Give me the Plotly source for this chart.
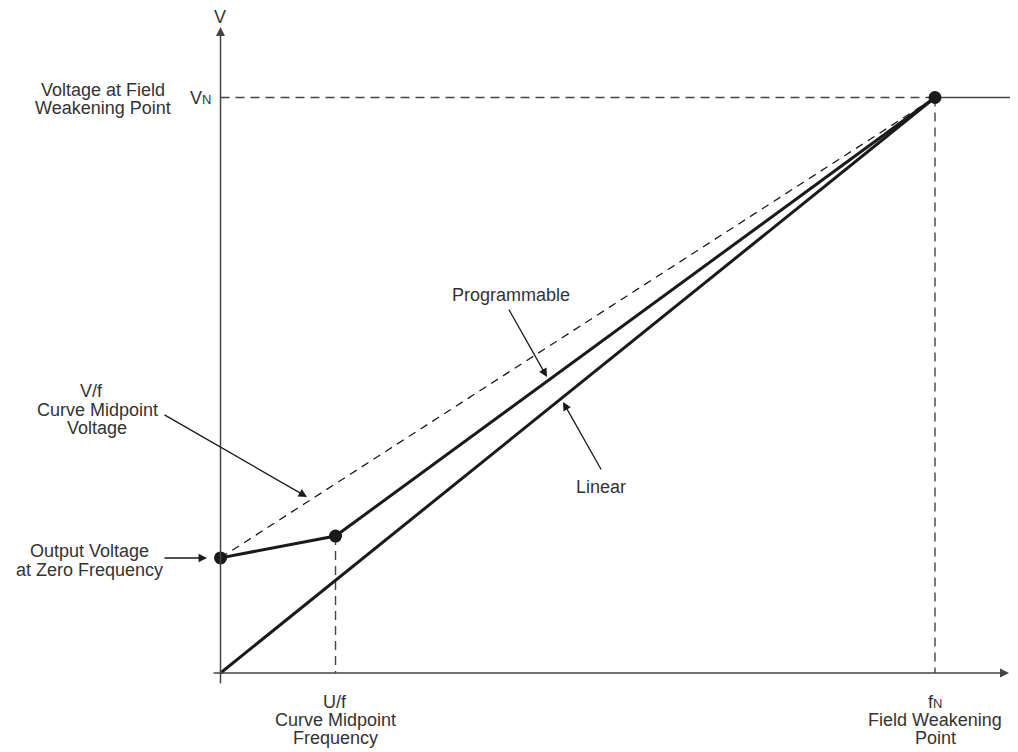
import plotly.graph_objects as go

# normalised V/f curve: f in units of fN, V in units of VN
f_zero = 0.0
f_mid = 0.161
f_n = 1.0
v_zero = 0.200
v_mid = 0.238
v_n = 1.0

prog_f = [f_zero, f_mid, f_n]
prog_v = [v_zero, v_mid, v_n]
lin_f = [0.0, f_n]
lin_v = [0.0, v_n]

# the page body has an 8px margin, so the figure sits at (8, 8) in the window
PAD = 8
W, H = 1018 - PAD, 752 - PAD
X0, Y0 = 220.5, 673.0          # window pixel position of origin
SX, SY = 714.5, 575.5          # pixels per unit


def at(px, py):
    # window pixel -> data units
    return (px - X0) / SX, (Y0 - py) / SY


TXT = "#333333"
INK = "#1a1a1a"
AXC = "#444444"
FONT = "Arial"

fig = go.Figure()

# dashed construction lines
dash_style = dict(color=AXC, width=1.4, dash="9px,6px")
fig.add_trace(go.Scatter(x=[f_zero, f_n], y=[v_zero, v_n], mode="lines",
                         line=dict(color=INK, width=1.3, dash="8px,6px"), hoverinfo="skip"))
fig.add_trace(go.Scatter(x=[0, f_n], y=[v_n, v_n], mode="lines", line=dash_style, hoverinfo="skip"))
fig.add_trace(go.Scatter(x=[f_n, f_n], y=[v_n, 0], mode="lines", line=dash_style, hoverinfo="skip"))
fig.add_trace(go.Scatter(x=[f_mid, f_mid], y=[v_mid, 0], mode="lines", line=dash_style, hoverinfo="skip"))
# solid continuation past field weakening point
fig.add_trace(go.Scatter(x=[f_n, at(1010, 0)[0]], y=[v_n, v_n], mode="lines",
                         line=dict(color=AXC, width=1.5), hoverinfo="skip"))

# curves
fig.add_trace(go.Scatter(x=lin_f, y=lin_v, mode="lines",
                         line=dict(color=INK, width=3), hoverinfo="skip"))
fig.add_trace(go.Scatter(x=prog_f, y=prog_v, mode="lines+markers",
                         line=dict(color=INK, width=3),
                         marker=dict(color=INK, size=13), hoverinfo="skip"))

annotations = []


def arrow(tail, head, width=1.3, color=INK, size=1.3):
    tx, ty = at(*tail)
    hx, hy = at(*head)
    annotations.append(dict(x=hx, y=hy, ax=tx, ay=ty, xref="x", yref="y", axref="x", ayref="y",
                            text="", showarrow=True, arrowhead=2, arrowsize=size,
                            arrowwidth=width, arrowcolor=color, standoff=0, startstandoff=0))


def label(text, px, py, xanchor="center", size=18):
    x, y = at(px, py)
    annotations.append(dict(x=x, y=y, xref="x", yref="y", text=text, showarrow=False,
                            xanchor=xanchor, yanchor="middle", borderpad=0,
                            font=dict(family=FONT, size=size, color=TXT)))


# axes
arrow((220.5, 685), (220.5, 27), width=1.5, color=AXC, size=1.2)
arrow((212, 673), (1009, 673), width=1.5, color=AXC, size=1.2)
label("V", 220, 17)
annotations.append(dict(x=1, y=at(0, 673)[1], xref="paper", yref="y", text="f",
                        showarrow=False, xanchor="right", yanchor="middle", borderpad=0,
                        font=dict(family=FONT, size=18, color=TXT)))

# pointer arrows
arrow((163, 414), (307, 497))
arrow((163, 558), (207, 558))
arrow((508, 308), (547, 377))
arrow((602, 471), (563, 402))

small_n = "<span style='font-size:13px'>N</span>"
label("V" + small_n, 212, 98, xanchor="right")
label("Voltage at Field", 103, 90)
label("Weakening Point", 103, 108)
label("V/f", 91, 391)
label("Curve Midpoint", 97, 410)
label("Voltage", 97, 428)
label("Output Voltage", 89, 551)
label("at Zero Frequency", 89, 570)
label("Programmable", 511, 295)
label("Linear", 601, 487)
label("U/f", 335, 702)
label("Curve Midpoint", 335, 720)
label("Frequency", 335, 738)
label("f" + small_n, 935, 702)
label("Field Weakening", 935, 720)
label("Point", 935, 738)

xr = [at(PAD, 0)[0], at(PAD + W, 0)[0]]
yr = [at(0, PAD + H)[1], at(0, PAD)[1]]

fig.update_layout(
    width=W, height=H,
    margin=dict(l=0, r=0, t=0, b=0),
    paper_bgcolor="white", plot_bgcolor="white",
    showlegend=False,
    xaxis=dict(range=xr, visible=False, fixedrange=True),
    yaxis=dict(range=yr, visible=False, fixedrange=True),
    annotations=annotations,
)

fig.write_html("out.html")
